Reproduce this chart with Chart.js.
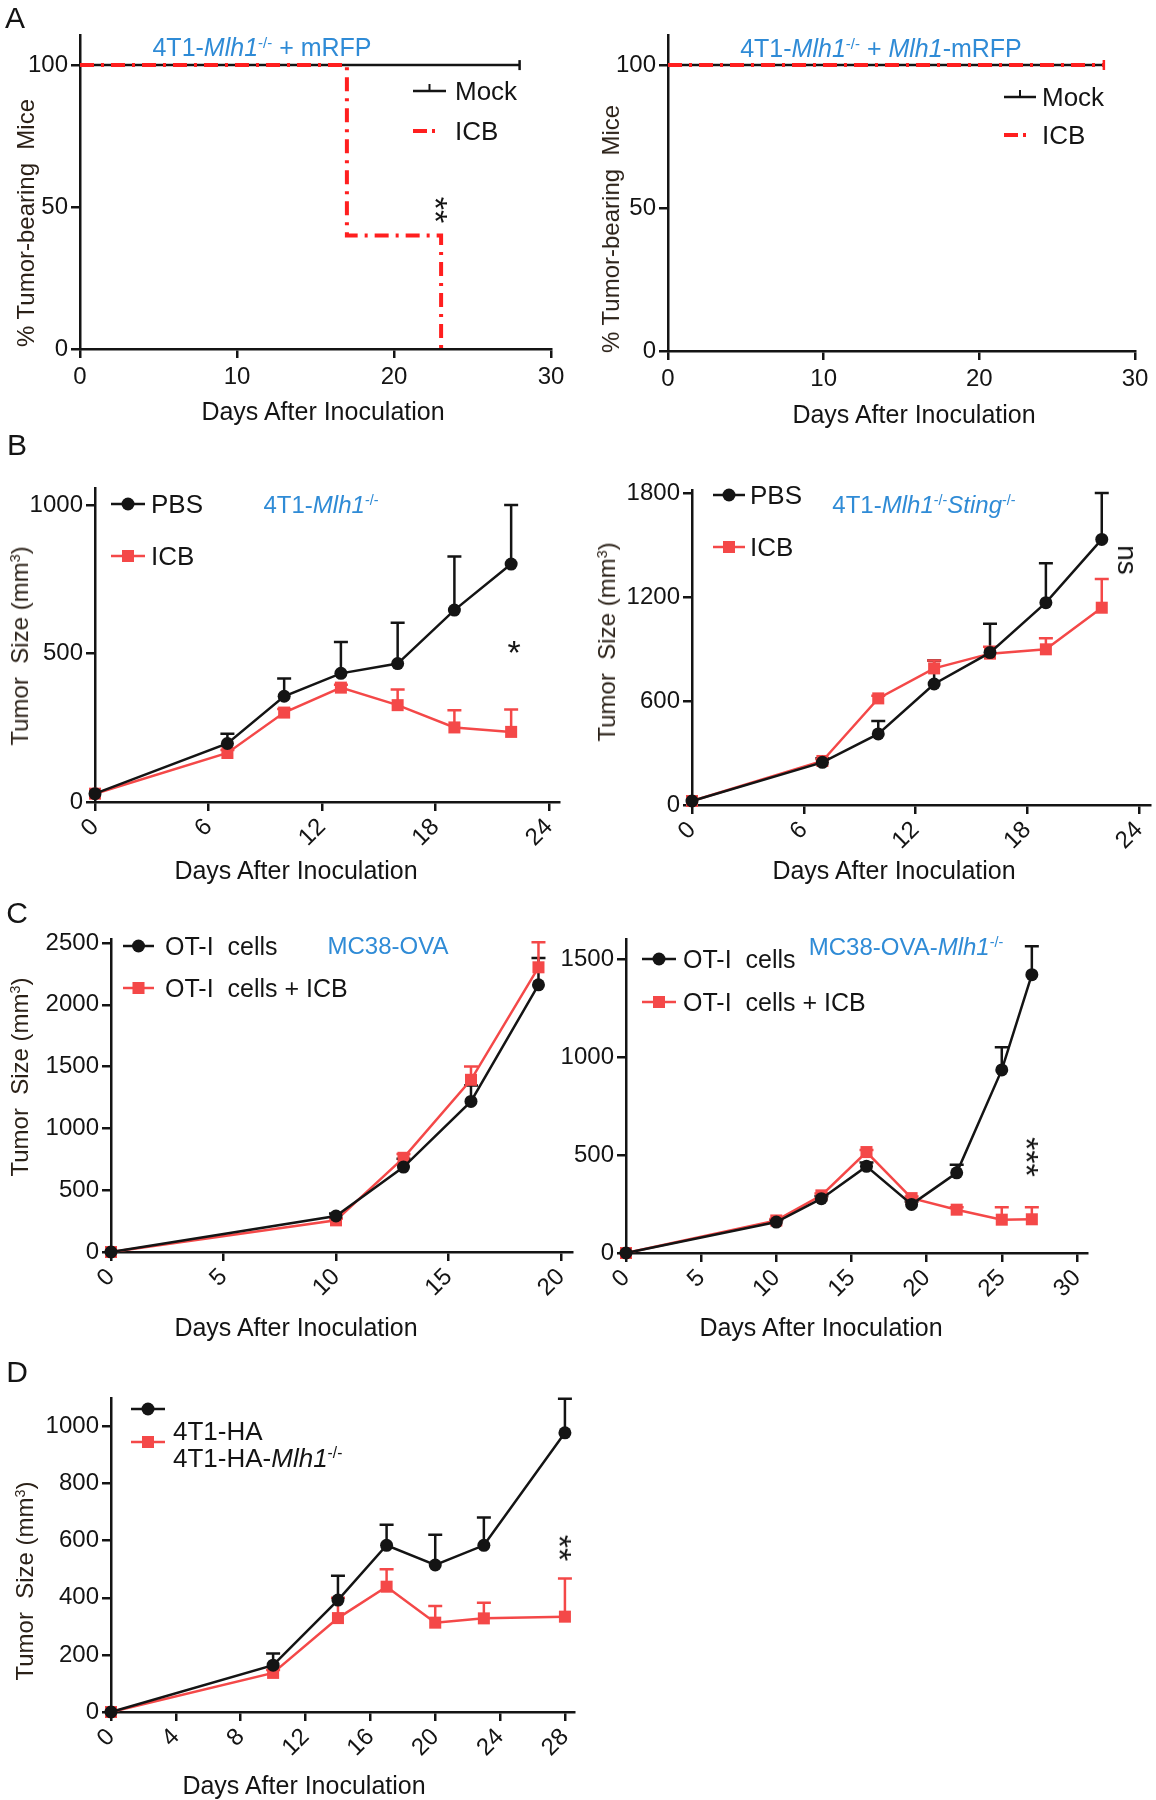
<!DOCTYPE html>
<html>
<head>
<meta charset="utf-8">
<title>Tumor growth panels</title>
<script src="https://cdn.jsdelivr.net/npm/chart.js@4.4.1/dist/chart.umd.min.js"></script>
<style>
  html, body { margin: 0; padding: 0; background: #fff; }
  #fig { position: relative; width: 1156px; height: 1800px; overflow: hidden;
         font-family: "Liberation Sans", Arial, sans-serif; color: #141414; }
  #fig canvas { position: absolute; }
  .t { position: absolute; white-space: nowrap; line-height: 1; }
  .c { transform: translate(-50%, -50%); }
  .l { transform: translate(0, -50%); }
  .up { transform: translate(-50%, -50%) rotate(-90deg); color: #2b2118; }
  .dn { transform: translate(-50%, -50%) rotate(90deg); }
  .blue { color: #2f8bd6; }
  sup { font-size: 60%; vertical-align: 0; position: relative; top: -0.55em; }
</style>
</head>
<body>
<div id="fig"></div>
<script>
const INK = '#141414';
const RED = '#f44848';
const KM_RED = '#ff1f1f';
const FAMILY = '"Liberation Sans", Arial, sans-serif';

// ---- Panel A: % tumor-bearing mice (survival steps) ----
const aMockDays = [0, 28];
const aMockPct = [100, 100];
const aIcbDays = [0, 17, 17, 23, 23];
const aIcbPct = [100, 100, 40, 40, 0];
const a2IcbDays = [0, 28];
const a2IcbPct = [100, 100];
const aDayTicks = [0, 10, 20, 30];
const aPctTicks = [0, 50, 100];

// ---- Panel B: 4T1-Mlh1-/- and 4T1-Mlh1-/-Sting-/- ----
const bDays = [0, 7, 10, 13, 16, 19, 22];
const bPbs = [28, 197, 356, 433, 466, 646, 801];
const bPbsSem = [0, 33, 60, 106, 137, 180, 199];
const bIcb = [28, 165, 301, 385, 326, 251, 236];
const bIcbSem = [0, 10, 12, 10, 53, 58, 75];
const b2Pbs = [23, 246, 410, 698, 879, 1167, 1532];
const b2PbsSem = [0, 23, 75, 136, 167, 227, 268];
const b2Icb = [23, 254, 615, 788, 873, 898, 1138];
const b2IcbSem = [0, 10, 15, 46, 40, 64, 166];
const bDayTicks = [0, 6, 12, 18, 24];
const bSizeTicks = [0, 500, 1000];
const b2SizeTicks = [0, 600, 1200, 1800];

// ---- Panel C: MC38-OVA and MC38-OVA-Mlh1-/- with OT-I cells ----
const cDays = [0, 10, 13, 16, 19];
const cOt = [0, 291, 687, 1218, 2161];
const cOtSem = [0, 20, 67, 129, 218];
const cOtIcb = [0, 256, 762, 1393, 2303];
const cOtIcbSem = [0, 15, 30, 108, 202];
const c2Days = [0, 10, 13, 16, 19, 22, 25, 27];
const c2Ot = [0, 158, 277, 442, 248, 409, 934, 1420];
const c2OtSem = [0, 10, 12, 20, 15, 41, 116, 145];
const c2OtIcb = [0, 166, 294, 515, 280, 221, 170, 172];
const c2OtIcbSem = [0, 8, 10, 10, 8, 12, 64, 62];
const cDayTicks = [0, 5, 10, 15, 20];
const c2DayTicks = [0, 5, 10, 15, 20, 25, 30];
const cSizeTicks = [0, 500, 1000, 1500, 2000, 2500];
const c2SizeTicks = [0, 500, 1000, 1500];

// ---- Panel D: 4T1-HA vs 4T1-HA-Mlh1-/- ----
const dDays = [0, 10, 14, 17, 20, 23, 28];
const dHa = [0, 164, 392, 584, 515, 584, 978];
const dHaSem = [0, 41, 85, 72, 106, 97, 119];
const dMlh = [0, 137, 329, 439, 313, 328, 334];
const dMlhSem = [0, 10, 71, 61, 58, 55, 134];
const dDayTicks = [0, 4, 8, 12, 16, 20, 24, 28];
const dSizeTicks = [0, 200, 400, 600, 800, 1000];

const fig = document.getElementById('fig');

function xy(xs, ys) { return xs.map((x, i) => ({ x: x, y: ys[i] })); }

function growth(xs, ys, sem, color, shape) {
  return {
    data: xy(xs, ys), sem: sem,
    borderColor: color, backgroundColor: color, borderWidth: 2.5,
    pointStyle: shape, pointRadius: shape === 'rect' ? 8.5 : 6.5,
    pointBorderWidth: 0, pointBackgroundColor: color,
    tension: 0, clip: false
  };
}

function km(xs, ys, color, dash, width, censor) {
  return {
    data: xy(xs, ys), borderColor: color, borderWidth: width, borderDash: dash,
    pointStyle: 'line', pointRotation: 90,
    pointRadius: xs.map((_, i) => (censor && i === xs.length - 1 ? 5 : 0)),
    pointBorderColor: color, pointBorderWidth: 2.5, clip: false
  };
}

// upper-only SEM bars, drawn through the chart's scales
const errorBars = {
  id: 'errorBars',
  beforeDatasetsDraw(chart) {
    const ctx = chart.ctx, sx = chart.scales.x, sy = chart.scales.y;
    chart.data.datasets.forEach(ds => {
      if (!ds.sem) return;
      ctx.save();
      ctx.strokeStyle = ds.borderColor;
      ctx.lineWidth = 2.5;
      ds.data.forEach((p, i) => {
        const e = ds.sem[i];
        if (!e) return;
        const px = sx.getPixelForValue(p.x);
        const y0 = sy.getPixelForValue(p.y);
        const y1 = sy.getPixelForValue(p.y + e);
        ctx.beginPath();
        ctx.moveTo(px, y0); ctx.lineTo(px, y1);
        ctx.moveTo(px - 7, y1); ctx.lineTo(px + 7, y1);
        ctx.stroke();
      });
      ctx.restore();
    });
  }
};

function legendMarks(keys, ox, oy) {
  return {
    id: 'legendMarks',
    afterDraw(chart) {
      const ctx = chart.ctx;
      keys.forEach(k => {
        const x1 = k.x1 - ox, x2 = k.x2 - ox, y = k.y - oy;
        ctx.save();
        ctx.strokeStyle = k.color;
        ctx.lineWidth = k.width || 2.5;
        ctx.setLineDash(k.dash || []);
        ctx.beginPath(); ctx.moveTo(x1, y); ctx.lineTo(x2, y); ctx.stroke();
        ctx.setLineDash([]);
        if (k.tick) {
          ctx.lineWidth = 2;
          ctx.beginPath(); ctx.moveTo((x1 + x2) / 2, y); ctx.lineTo((x1 + x2) / 2, y - 7); ctx.stroke();
        }
        if (k.shape) {
          ctx.fillStyle = k.color;
          Chart.helpers.drawPoint(ctx, { pointStyle: k.shape, radius: k.shape === 'rect' ? 8.5 : 6.5, rotation: 0, borderWidth: 0 }, (x1 + x2) / 2, y);
        }
        ctx.restore();
      });
    }
  };
}

function axis(min, max, ticks, rot, pad) {
  return {
    type: 'linear', min: min, max: max,
    afterBuildTicks: s => { s.ticks = ticks.map(v => ({ value: v })); },
    grid: { drawOnChartArea: false, drawTicks: true, tickLength: 9, lineWidth: 2.5, color: INK, tickColor: INK },
    border: { display: true, color: INK, width: 2.5 },
    ticks: {
      color: INK, font: { family: FAMILY, size: 24 }, autoSkip: false,
      minRotation: rot, maxRotation: rot, padding: pad,
      callback: v => String(v)
    }
  };
}

function panel(p) {
  const PL = 90, PT = 16, PR = 26, PB = 72;
  const ox = p.area.l - PL, oy = p.area.t - PT;
  const cv = document.createElement('canvas');
  cv.width = p.area.r - p.area.l + PL + PR;
  cv.height = p.area.b - p.area.t + PT + PB;
  cv.style.left = ox + 'px';
  cv.style.top = oy + 'px';
  fig.appendChild(cv);

  const rot = p.rotate ? 45 : 0;
  const xs = axis(p.x[0], p.x[1], p.xTicks, rot, rot ? 2 : 5);
  xs.afterFit = s => { s.height = PB; s.paddingLeft = 0; s.paddingRight = 0; };
  const ys = axis(p.y[0], p.y[1], p.yTicks, 0, 3);
  ys.afterFit = s => { s.width = PL; s.paddingTop = 0; s.paddingBottom = 0; };

  new Chart(cv.getContext('2d'), {
    type: 'line',
    data: { datasets: p.datasets },
    options: {
      responsive: false, animation: false,
      layout: { padding: { left: 0, top: PT, right: PR, bottom: 0 } },
      plugins: { legend: { display: false }, tooltip: { enabled: false } },
      scales: { x: xs, y: ys }
    },
    plugins: [errorBars, legendMarks(p.keys, ox, oy)]
  });
}

function text(html, x, y, cls, size, extra) {
  const d = document.createElement('div');
  d.className = 't ' + cls;
  d.innerHTML = html;
  d.style.left = x + 'px';
  d.style.top = y + 'px';
  d.style.fontSize = size + 'px';
  if (extra) Object.assign(d.style, extra);
  fig.appendChild(d);
}

const KM_DASH = [14, 7, 3, 7];
const DAYS = 'Days After Inoculation';
const SIZE = 'Tumor&nbsp; Size (mm<sup>3</sup>)';

// ---------- A ----------
panel({
  area: { l: 80, r: 551, t: 35, b: 349 }, x: [0, 30], y: [0, 110.6],
  xTicks: aDayTicks, yTicks: aPctTicks,
  datasets: [km(aIcbDays, aIcbPct, KM_RED, KM_DASH, 4, false), km(aMockDays, aMockPct, INK, [], 2.5, true)],
  keys: [
    { x1: 413, x2: 446, y: 91, color: INK, tick: true },
    { x1: 413, x2: 439, y: 131, color: KM_RED, dash: [14, 5, 3, 5], width: 4 }
  ]
});
panel({
  area: { l: 668, r: 1135, t: 35, b: 351 }, x: [0, 30], y: [0, 110.5],
  xTicks: aDayTicks, yTicks: aPctTicks,
  datasets: [km(a2IcbDays, a2IcbPct, KM_RED, KM_DASH, 4, true), km(aMockDays, aMockPct, INK, [], 2.5, false)],
  keys: [
    { x1: 1004, x2: 1036, y: 97, color: INK, tick: true },
    { x1: 1004, x2: 1030, y: 135, color: KM_RED, dash: [14, 5, 3, 5], width: 4 }
  ]
});
text('A', 15, 18, 'c', 30);
text('4T1-<i>Mlh1</i><sup>-/-</sup> + mRFP', 262, 47, 'c blue', 25);
text('Mock', 455, 91, 'l', 26);
text('ICB', 455, 131, 'l', 26);
text('**', 436, 210, 'dn', 34);
text('% Tumor-bearing&nbsp; Mice', 26, 223, 'up', 24);
text(DAYS, 323, 411, 'c', 25);
text('4T1-<i>Mlh1</i><sup>-/-</sup> + <i>Mlh1</i>-mRFP', 881, 48, 'c blue', 25);
text('Mock', 1042, 97, 'l', 26);
text('ICB', 1042, 135, 'l', 26);
text('% Tumor-bearing&nbsp; Mice', 611, 229, 'up', 24);
text(DAYS, 914, 414, 'c', 25);

// ---------- B ----------
panel({
  area: { l: 95, r: 559, t: 488, b: 802 }, x: [0, 24.53], y: [0, 1057],
  xTicks: bDayTicks, yTicks: bSizeTicks, rotate: true,
  datasets: [growth(bDays, bPbs, bPbsSem, INK, 'circle'), growth(bDays, bIcb, bIcbSem, RED, 'rect')],
  keys: [
    { x1: 111, x2: 145, y: 504, color: INK, shape: 'circle' },
    { x1: 111, x2: 145, y: 556, color: RED, shape: 'rect' }
  ]
});
panel({
  area: { l: 692, r: 1150, t: 490, b: 805 }, x: [0, 24.59], y: [0, 1817],
  xTicks: bDayTicks, yTicks: b2SizeTicks, rotate: true,
  datasets: [growth(bDays, b2Pbs, b2PbsSem, INK, 'circle'), growth(bDays, b2Icb, b2IcbSem, RED, 'rect')],
  keys: [
    { x1: 713, x2: 745, y: 495, color: INK, shape: 'circle' },
    { x1: 713, x2: 745, y: 547, color: RED, shape: 'rect' }
  ]
});
text('B', 17, 445, 'c', 30);
text('PBS', 151, 504, 'l', 26);
text('ICB', 151, 556, 'l', 26);
text('4T1-<i>Mlh1</i><sup>-/-</sup>', 321, 505, 'c blue', 24);
text('*', 514, 652, 'c', 34);
text(SIZE, 20, 646, 'up', 24);
text(DAYS, 296, 870, 'c', 25);
text('PBS', 750, 495, 'l', 26);
text('ICB', 750, 547, 'l', 26);
text('4T1-<i>Mlh1</i><sup>-/-</sup><i>Sting</i><sup>-/-</sup>', 924, 505, 'c blue', 24);
text('ns', 1127, 560, 'dn', 28);
text(SIZE, 607, 642, 'up', 24);
text(DAYS, 894, 870, 'c', 25);

// ---------- C ----------
panel({
  area: { l: 111, r: 572, t: 939, b: 1252 }, x: [0, 20.49], y: [0, 2532],
  xTicks: cDayTicks, yTicks: cSizeTicks, rotate: true,
  datasets: [growth(cDays, cOt, cOtSem, INK, 'circle'), growth(cDays, cOtIcb, cOtIcbSem, RED, 'rect')],
  keys: [
    { x1: 123, x2: 154, y: 946, color: INK, shape: 'circle' },
    { x1: 123, x2: 154, y: 988, color: RED, shape: 'rect' }
  ]
});
panel({
  area: { l: 626, r: 1087, t: 939, b: 1253 }, x: [0, 30.67], y: [0, 1602],
  xTicks: c2DayTicks, yTicks: c2SizeTicks, rotate: true,
  datasets: [growth(c2Days, c2Ot, c2OtSem, INK, 'circle'), growth(c2Days, c2OtIcb, c2OtIcbSem, RED, 'rect')],
  keys: [
    { x1: 642, x2: 676, y: 959, color: INK, shape: 'circle' },
    { x1: 642, x2: 676, y: 1002, color: RED, shape: 'rect' }
  ]
});
text('C', 17, 913, 'c', 30);
text('OT-I&nbsp; cells', 165, 946, 'l', 25);
text('OT-I&nbsp; cells + ICB', 165, 988, 'l', 25);
text('MC38-OVA', 388, 946, 'c blue', 24);
text(SIZE, 20, 1077, 'up', 24);
text(DAYS, 296, 1327, 'c', 25);
text('OT-I&nbsp; cells', 683, 959, 'l', 25);
text('OT-I&nbsp; cells + ICB', 683, 1002, 'l', 25);
text('MC38-OVA-<i>Mlh1</i><sup>-/-</sup>', 906, 947, 'c blue', 24);
text('***', 1027, 1157, 'dn', 34);
text(DAYS, 821, 1327, 'c', 25);

// ---------- D ----------
panel({
  area: { l: 111, r: 574, t: 1398, b: 1712 }, x: [0, 28.56], y: [0, 1100],
  xTicks: dDayTicks, yTicks: dSizeTicks, rotate: true,
  datasets: [growth(dDays, dHa, dHaSem, INK, 'circle'), growth(dDays, dMlh, dMlhSem, RED, 'rect')],
  keys: [
    { x1: 131, x2: 165, y: 1409, color: INK, shape: 'circle' },
    { x1: 131, x2: 165, y: 1442, color: RED, shape: 'rect' }
  ]
});
text('D', 17, 1372, 'c', 30);
text('4T1-HA', 173, 1431, 'l', 26);
text('4T1-HA-<i>Mlh1</i><sup>-/-</sup>', 173, 1458, 'l', 26);
text('**', 560, 1548, 'dn', 34);
text(SIZE, 25, 1581, 'up', 24);
text(DAYS, 304, 1785, 'c', 25);
</script>
</body>
</html>
